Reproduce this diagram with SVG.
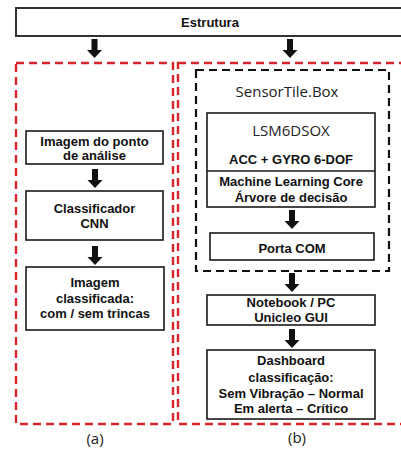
<svg xmlns="http://www.w3.org/2000/svg" width="401" height="450" viewBox="0 0 401 450">
<defs>
<style>
.box{fill:#fff;stroke:#1a1a1a;stroke-width:1.6}
.red{fill:none;stroke:#d7262b;stroke-width:2.4;stroke-dasharray:8 5}
.blk{fill:none;stroke:#111;stroke-width:2.2;stroke-dasharray:8 5}
.b{font-family:"Liberation Sans",Arial,sans-serif;font-weight:bold;font-size:13px;fill:#111;text-anchor:middle}
.n{font-family:"Open Sans","Noto Sans",sans-serif;font-size:15px;fill:#222;text-anchor:middle}
.arr{fill:#111}
</style>
<path id="ar" d="M-3,0 H3 V11 H7.5 L0,19 L-7.5,11 H-3 Z"/>
</defs>
<rect width="401" height="450" fill="#fff"/>

<g id="estrutura">
<rect x="16" y="8" width="400" height="28" fill="#fff" stroke="#333" stroke-width="2"/>
<text class="b" x="210" y="27">Estrutura</text>
</g>

<g id="panel-a">
<rect class="red" x="16" y="63" width="157" height="361"/>
<text class="n" x="95" y="444">(a)</text>
</g>
<g id="panel-b">
<rect class="red" x="178" y="63" width="240" height="361"/>
<text class="n" x="297" y="443">(b)</text>
</g>

<g id="sensortile">
<rect class="blk" x="196" y="70" width="193" height="201"/>
<text class="n" x="287" y="97">SensorTile.Box</text>
</g>

<g id="img-ponto">
<rect class="box" x="26" y="131" width="137" height="33"/>
<text class="b" x="94.5" y="146">Imagem do ponto</text>
<text class="b" x="94.5" y="160">de análise</text>
</g>

<g id="cnn">
<rect class="box" x="26" y="191" width="137" height="49"/>
<text class="b" x="94.5" y="213">Classificador</text>
<text class="b" x="94.5" y="228">CNN</text>
</g>

<g id="img-class">
<rect class="box" x="26" y="267" width="138" height="63"/>
<text class="b" x="95" y="287">Imagem</text>
<text class="b" x="95" y="303">classificada:</text>
<text class="b" x="95" y="318">com / sem trincas</text>
</g>

<g id="lsm">
<rect class="box" x="207" y="113" width="168" height="94"/>
<line x1="207" y1="171" x2="375" y2="171" stroke="#1a1a1a" stroke-width="1.6"/>
<text class="n" x="291" y="136">LSM6DSOX</text>
<text class="b" x="291" y="164">ACC + GYRO 6-DOF</text>
<text class="b" x="291" y="186">Machine Learning Core</text>
<text class="b" x="291" y="202">Árvore de decisão</text>
</g>

<g id="porta">
<rect class="box" x="210" y="233" width="164" height="27"/>
<text class="b" x="292" y="253">Porta COM</text>
</g>

<g id="notebook">
<rect class="box" x="207" y="295" width="168" height="30"/>
<text class="b" x="291" y="307">Notebook / PC</text>
<text class="b" x="291" y="322">Unicleo GUI</text>
</g>

<g id="dashboard">
<rect class="box" x="207" y="350" width="168" height="69"/>
<text class="b" x="291" y="365">Dashboard</text>
<text class="b" x="291" y="382">classificação:</text>
<text class="b" x="291" y="398">Sem Vibração – Normal</text>
<text class="b" x="291" y="413">Em alerta – Crítico</text>
</g>

<g id="connectors" class="arr">
<use href="#ar" x="94.5" y="39"/>
<use href="#ar" x="290" y="39"/>
<use href="#ar" x="95" y="169"/>
<use href="#ar" x="95" y="246"/>
<use href="#ar" x="292" y="210"/>
<use href="#ar" x="292" y="273"/>
<use href="#ar" x="292" y="329"/>
</g>
</svg>
